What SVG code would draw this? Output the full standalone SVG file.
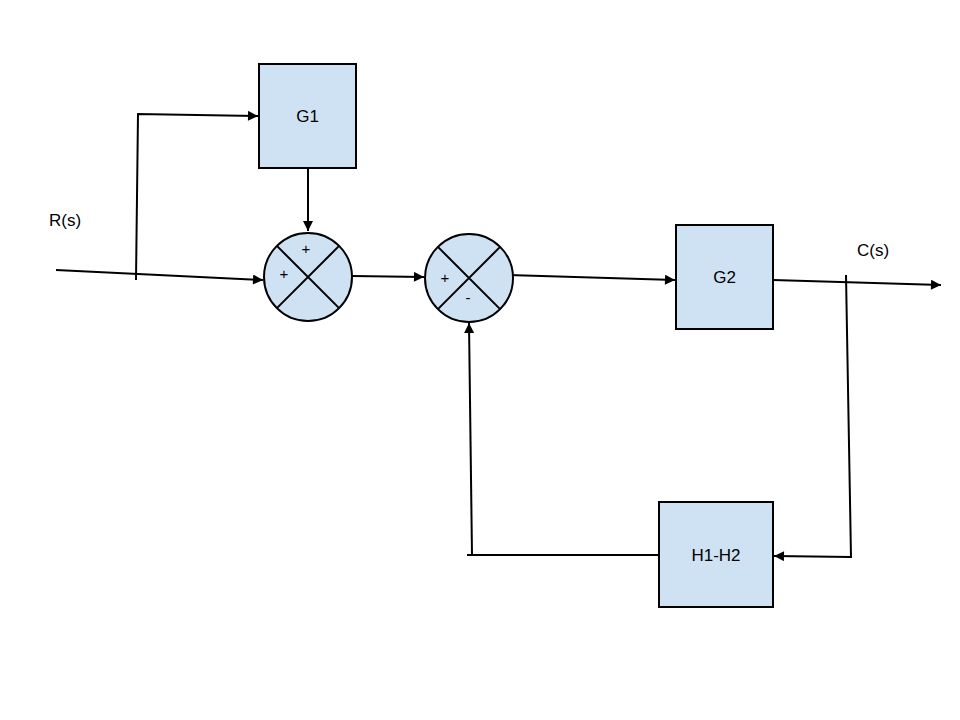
<svg xmlns="http://www.w3.org/2000/svg" width="960" height="720" viewBox="0 0 960 720">
<style>
.blk{fill:#cfe2f3;stroke:#000;stroke-width:2}
.ln{fill:none;stroke:#000;stroke-width:2}
.t{font-family:"Liberation Sans",Arial,sans-serif;font-size:17px;fill:#000}
.s{font-family:"Liberation Sans",Arial,sans-serif;font-size:15px;fill:#000}
</style>
<defs>
<marker id="ah" viewBox="0 0 10 10" refX="10" refY="5" markerWidth="12" markerHeight="10" markerUnits="userSpaceOnUse" orient="auto">
<path d="M0,0 L10,5 L0,10 z" fill="#000"/>
</marker>
</defs>
<rect width="960" height="720" fill="#fff"/>
<g id="connectors">
<path class="ln" d="M56,270 L263,280" marker-end="url(#ah)"/>
<path class="ln" d="M136,280 L138,114 L258,116" marker-end="url(#ah)"/>
<path class="ln" d="M308,169 L308,231" marker-end="url(#ah)"/>
<path class="ln" d="M352,276 L424,277" marker-end="url(#ah)"/>
<path class="ln" d="M508,275 L675,280" marker-end="url(#ah)"/>
<path class="ln" d="M773,280 L941,285" marker-end="url(#ah)"/>
<path class="ln" d="M846,275 L851,557 L774,556" marker-end="url(#ah)"/>
<path class="ln" d="M659,555 L467,555"/>
<path class="ln" d="M472,555 L469,323" marker-end="url(#ah)"/>
</g>
<g id="G1">
<rect class="blk" x="259" y="64" width="97" height="104"/>
<text class="t" x="307.5" y="122" text-anchor="middle">G1</text>
</g>
<g id="sum1">
<circle class="blk" cx="308" cy="277" r="44"/>
<path class="ln" d="M276.9,245.9 L339.1,308.1 M339.1,245.9 L276.9,308.1"/>
<text class="s" x="306" y="254" text-anchor="middle">+</text>
<text class="s" x="284" y="279" text-anchor="middle">+</text>
</g>
<g id="sum2">
<circle class="blk" cx="469" cy="278" r="44"/>
<path class="ln" d="M437.9,246.9 L500.1,309.1 M500.1,246.9 L437.9,309.1"/>
<text class="s" x="445" y="283" text-anchor="middle">+</text>
<text class="s" x="468" y="303" text-anchor="middle">-</text>
</g>
<g id="G2">
<rect class="blk" x="676" y="225" width="97" height="104"/>
<text class="t" x="724.5" y="283" text-anchor="middle">G2</text>
</g>
<g id="H">
<rect class="blk" x="659" y="502" width="114" height="105"/>
<text class="t" x="716" y="561" text-anchor="middle">H1-H2</text>
</g>
<g id="labels">
<text class="t" x="65" y="226" text-anchor="middle">R(s)</text>
<text class="t" x="873" y="256" text-anchor="middle">C(s)</text>
</g>
</svg>
